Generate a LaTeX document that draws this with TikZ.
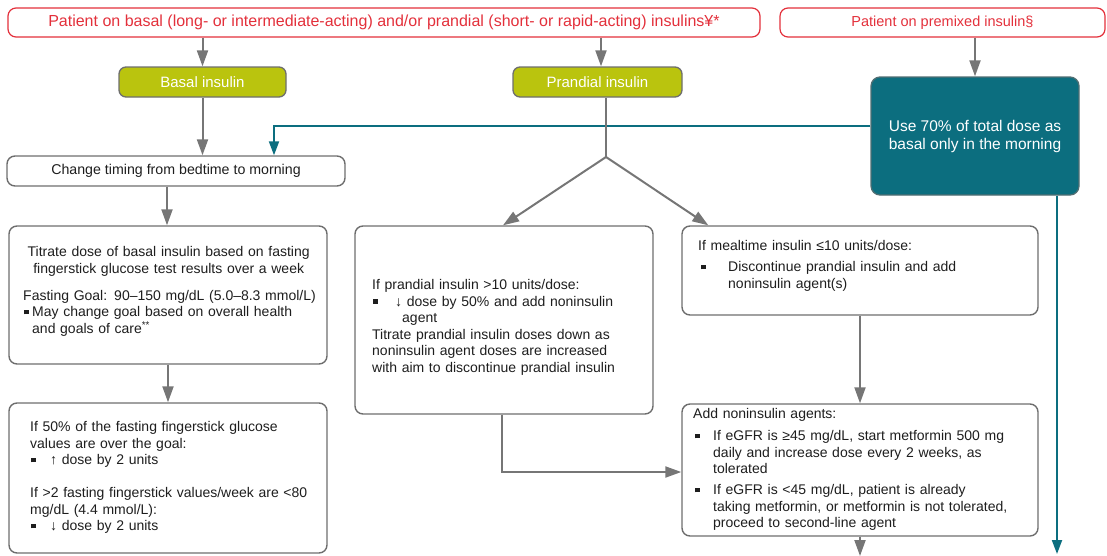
\documentclass[tikz,border=0pt]{standalone}
\usepackage{fontspec}
\setmainfont{Liberation Sans}
\usetikzlibrary{arrows.meta,calc}

\definecolor{alertred}{HTML}{E3303B}
\definecolor{leaf}{HTML}{BAC40E}
\definecolor{petrol}{HTML}{0C6E7F}
\definecolor{linegray}{HTML}{767676}
\definecolor{framegray}{HTML}{6E6E6E}
\definecolor{ink}{HTML}{1E1E1E}

% square bullet in a box of width #2, shifted right by #1
\newcommand{\sqb}[2]{\makebox[#2][l]{\hspace*{#1}\rule[2.5pt]{4.5pt}{4.5pt}}}

\begin{document}
\begin{tikzpicture}[x=1pt,y=-1pt,
  font=\fontsize{14}{16.5}\selectfont,
  redbox/.style={draw=alertred, line width=1.2pt, rounded corners=8pt,
    text=alertred, inner sep=0pt},
  leafbox/.style={draw=framegray, fill=leaf, line width=1.3pt, rounded corners=7pt,
    text=white, inner sep=0pt, font=\fontsize{15}{18}\selectfont},
  petrolbox/.style={draw=framegray!70!petrol, fill=petrol, line width=1.3pt,
    rounded corners=9pt, text=white, inner sep=0pt, align=center,
    font=\fontsize{15.5}{18}\selectfont},
  plainbox/.style={draw=framegray, fill=white, line width=1.4pt, rounded corners=8pt,
    text=ink, inner sep=0pt},
  txt/.style={text=ink, inner sep=0pt, align=left, anchor=north west},
  grayarrow/.style={draw=linegray, line width=2pt,
    -{Triangle[length=16pt,width=11pt]}},
  petrolarrow/.style={draw=petrol, line width=2pt,
    -{Triangle[length=14pt,width=10pt]}},
]
\useasboundingbox (0,0) rectangle (1107,555);

% entry points
\node[redbox, minimum width=752pt, minimum height=29pt, font=\fontsize{16}{18}\selectfont]
  (top1) at (384,22.5)
  {Patient on basal (long- or intermediate-acting) and/or prandial (short- or rapid-acting) insulins¥*};
\node[redbox, minimum width=325pt, minimum height=29pt, font=\fontsize{14.5}{17}\selectfont]
  (top2) at (942.5,22.5) {Patient on premixed insulin§};

% insulin type
\node[leafbox, minimum width=167pt, minimum height=30pt] (basal) at (202.5,82) {Basal insulin};
\node[leafbox, minimum width=169pt, minimum height=30pt] (prandial) at (597.5,82) {Prandial insulin};
\node[petrolbox, minimum width=208pt, minimum height=118pt] (premix) at (975,136)
  {Use 70\% of total dose as\\basal only in the morning};

% basal branch
\node[plainbox, minimum width=338pt, minimum height=30pt, font=\fontsize{14.2}{17}\selectfont]
  (timing) at (176,171) {Change timing from bedtime to morning};
\node[plainbox, minimum width=318pt, minimum height=138pt] (titrate) at (168,295) {};
\node[txt, text width=291pt] (titrateT) at (23,246.5) {%
  {\centering Titrate dose of basal insulin based on fasting\\
  fingerstick glucose test results over a week\par}\vspace{10.5pt}
  \mbox{Fasting Goal: 90–150 mg/dL (5.0–8.3 mmol/L)}\\
  \sqb{1pt}{9pt}May change goal based on overall health\\
  \hspace*{9pt}and goals of care\textsuperscript{**}};
\node[plainbox, minimum width=318pt, minimum height=150pt] (adjust) at (168,478) {};
\node[txt, text width=290pt] (adjustT) at (30,421.5) {%
  If 50\% of the fasting fingerstick glucose\\
  values are over the goal:\\
  \sqb{1pt}{20pt}↑ dose by 2 units\\[16.5pt]
  If >2 fasting fingerstick values/week are <80\\
  mg/dL (4.4 mmol/L):\\
  \sqb{1pt}{20pt}↓ dose by 2 units};

% prandial branch
\node[plainbox, minimum width=298pt, minimum height=188pt] (high) at (504,320) {};
\node[txt, text width=275pt] (highT) at (372,279.5) {%
  If prandial insulin >10 units/dose:\\
  \sqb{1pt}{23pt}↓ dose by 50\% and add noninsulin\\
  \hspace*{30pt}agent\\
  Titrate prandial insulin doses down as\\
  noninsulin agent doses are increased\\
  with aim to discontinue prandial insulin};
\node[plainbox, minimum width=356pt, minimum height=89pt] (low) at (860,270.5) {};
\node[txt, text width=330pt] (lowT) at (698,240.5) {%
  If mealtime insulin ≤10 units/dose:\\[4.5pt]
  \sqb{3pt}{30pt}Discontinue prandial insulin and add\\
  \hspace*{30pt}noninsulin agent(s)};
\node[plainbox, minimum width=356pt, minimum height=132pt] (agents) at (860,470) {};
\node[txt, text width=340pt] (agentsT) at (693,408.5) {%
  Add noninsulin agents:\\[5.5pt]
  \sqb{2pt}{20pt}If eGFR is ≥45 mg/dL, start metformin 500 mg\\
  \hspace*{20pt}daily and increase dose every 2 weeks, as\\
  \hspace*{20pt}tolerated\\[4.5pt]
  \sqb{2pt}{20pt}If eGFR is <45 mg/dL, patient is already\\
  \hspace*{20pt}taking metformin, or metformin is not tolerated,\\
  \hspace*{20pt}proceed to second-line agent};

% junctions and loose ends
\coordinate (prandialIn) at ([xshift=3.5pt]prandial.north);
\coordinate (timingOut) at ([xshift=-9pt]timing.south);
\coordinate (split) at (606,157);
\coordinate (agentsOut) at (860,556);
\coordinate (premixOut) at (1057,554);

% connectors
\draw[grayarrow] (top1.south -| basal.north) -- (basal.north);
\draw[grayarrow] (top1.south -| prandialIn) -- (prandialIn);
\draw[grayarrow] (top2.south -| premix.north) -- (premix.north);
\draw[grayarrow] (basal.south) -- (basal.south |- timing.north);
\draw[petrolarrow] ([yshift=10pt]premix.west) -| ([xshift=98pt]timing.north);
\draw[draw=linegray, line width=2pt] (prandial.south -| split) -- (split);
\draw[grayarrow] (split) -- ([xshift=-1pt]high.north);
\draw[grayarrow] (split) -- ([xshift=27pt]low.north west);
\draw[grayarrow] (timingOut) -- (timingOut |- titrate.north);
\draw[grayarrow] (titrate.south) -- (adjust.north);
\draw[grayarrow] ([xshift=-2pt]high.south) |- ([yshift=-2pt]agents.west);
\draw[grayarrow] (low.south) -- (agents.north);
\draw[grayarrow] (agents.south) -- (agentsOut);
\draw[petrolarrow] (premix.south -| premixOut) -- (premixOut);
\end{tikzpicture}
\end{document}
